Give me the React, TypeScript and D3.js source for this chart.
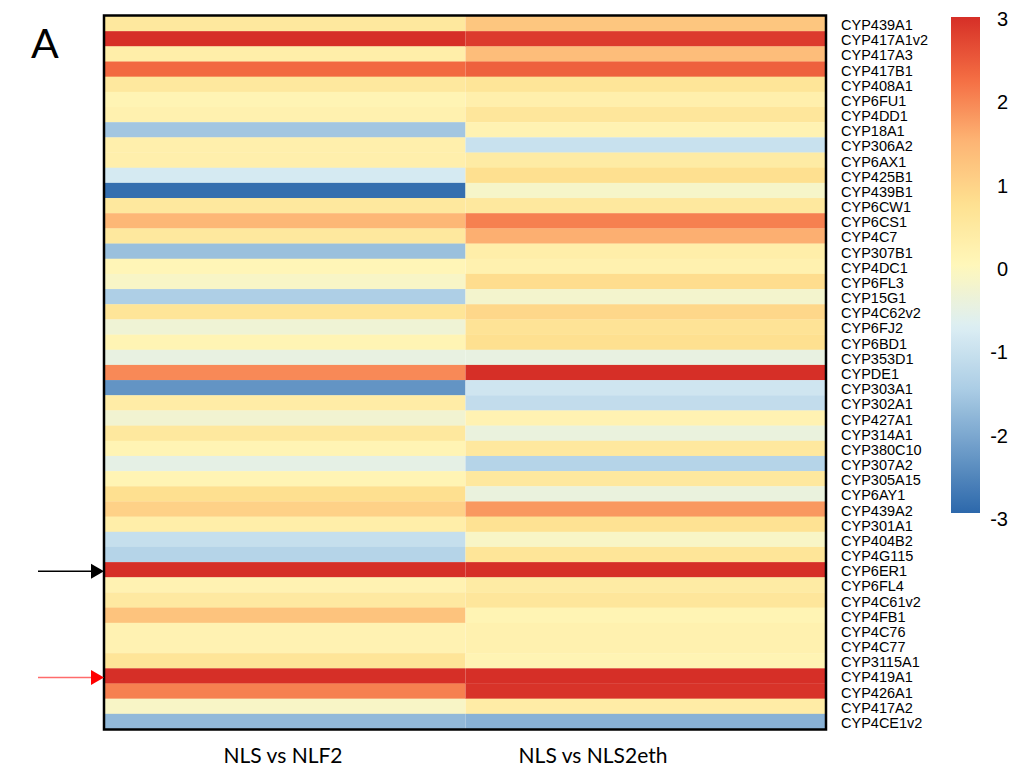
import React from "react";
import * as d3 from "d3";

const genes = [
  "CYP439A1","CYP417A1v2","CYP417A3","CYP417B1","CYP408A1","CYP6FU1","CYP4DD1","CYP18A1",
  "CYP306A2","CYP6AX1","CYP425B1","CYP439B1","CYP6CW1","CYP6CS1","CYP4C7","CYP307B1",
  "CYP4DC1","CYP6FL3","CYP15G1","CYP4C62v2","CYP6FJ2","CYP6BD1","CYP353D1","CYPDE1",
  "CYP303A1","CYP302A1","CYP427A1","CYP314A1","CYP380C10","CYP307A2","CYP305A15","CYP6AY1",
  "CYP439A2","CYP301A1","CYP404B2","CYP4G115","CYP6ER1","CYP6FL4","CYP4C61v2","CYP4FB1",
  "CYP4C76","CYP4C77","CYP3115A1","CYP419A1","CYP426A1","CYP417A2","CYP4CE1v2",
];

const conditions = ["NLS vs NLF2", "NLS vs NLS2eth"];

const nlf2 = [
  0.5, 3.0, 0.3, 2.3, 0.5, 0.1, 0.2, -1.6,
  0.25, 0.25, -0.85, -2.9, 0.5, 1.45, 0.5, -1.7,
  0.05, -0.15, -1.45, 0.6, -0.35, 0.1, -0.5, 1.95,
  -2.35, 0.35, -0.3, 0.5, 0.1, -0.55, 0.1, 0.75,
  1.0, 0.3, -1.1, -1.35, 3.0, 0.15, 0.45, 1.25,
  0.15, 0.15, 0.6, 3.0, 2.05, -0.15, -1.8,
];

const nls2eth = [
  1.2, 2.85, 1.35, 2.4, 0.6, 0.25, 0.55, 0.15,
  -1.05, 0.4, 0.75, -0.2, 0.5, 2.05, 1.55, 0.3,
  0.2, 0.8, -0.25, 0.9, 0.65, 0.75, -0.5, 3.0,
  -0.95, -1.15, 0.15, -0.45, 0.5, -1.35, 0.5, -0.45,
  1.8, 0.7, -0.15, 0.6, 3.0, 0.4, 0.55, 0.1,
  0.2, 0.2, 0.1, 3.0, 2.95, 0.35, -1.9,
];

const legendTicks = [3, 2, 1, 0, -1, -2, -3];
const paletteStops = [-3, -2.25, -1.5, -0.75, 0, 0.75, 1.5, 2.25, 3];
const paletteColors = [
  "#2C68AB", "#6C9BC8", "#ABCDE5", "#DCEEF4", "#FFF7BA",
  "#FEE090", "#FDB474", "#F46D43", "#D62F27",
];
const arrowRows = [
  { gene: "CYP6ER1", line: "#000000", head: "#000000" },
  { gene: "CYP419A1", line: "#FF6B6B", head: "#FF0000" },
];

const values = [nlf2, nls2eth];

export default function App() {
  const W = 1017, H = 772;
  const y = d3.scaleBand<string>().domain(genes).range([16, 729]);
  const x = d3.scaleBand<string>().domain(conditions).range([105, 826]);
  const color = d3
    .scaleLinear<string>()
    .domain(paletteStops)
    .range(paletteColors)
    .interpolate(d3.interpolateRgb)
    .clamp(true);
  const legY = d3.scaleLinear().domain([3, -3]).range([17, 513]);
  const legLabelY = d3.scaleLinear().domain([3, -3]).range([19, 519]);
  const gradStops = d3.range(0, 61).map((i) => {
    const v = 3 - i * 0.1;
    return { off: (i / 60) * 100, c: color(v) };
  });
  const labelX = [283, 593];

  return (
    <svg
      width={W}
      height={H}
      style={{ position: "absolute", left: 0, top: 0, background: "#fff" }}
      fontFamily="'Liberation Sans', Arial, sans-serif"
    >
      <defs>
        <linearGradient id="leg" x1="0" y1="0" x2="0" y2="1">
          {gradStops.map((s, i) => (
            <stop key={i} offset={`${s.off}%`} stopColor={s.c} />
          ))}
        </linearGradient>
      </defs>
      <text x={31} y={58} fontSize={41} fill="#000" fontFamily="Lato, sans-serif">A</text>

      {conditions.map((c, ci) =>
        genes.map((g, gi) => (
          <rect
            key={c + g}
            x={x(c)!}
            y={y(g)!}
            width={x.bandwidth()}
            height={y.bandwidth() + 0.3}
            fill={color(values[ci][gi])}
          />
        ))
      )}
      <rect x={104} y={15.5} width={722} height={714} fill="none" stroke="#000" strokeWidth={2.5} />

      {genes.map((g) => (
        <text
          key={g}
          x={841}
          y={y(g)! + y.bandwidth() / 2 + 6.5}
          fontSize={14.5}
          fill="#000"
        >
          {g}
        </text>
      ))}

      {conditions.map((c, i) => (
        <text
          key={c}
          x={labelX[i]}
          y={763}
          fontSize={21}
          textAnchor="middle"
          fontFamily="Lato, 'Open Sans', sans-serif"
          fill="#000"
        >
          {c}
        </text>
      ))}

      <rect x={951} y={legY(3)} width={29} height={legY(-3) - legY(3)} fill="url(#leg)" />
      {legendTicks.map((t) => (
        <text key={t} x={1008} y={legLabelY(t) + 7} fontSize={20} textAnchor="end" fill="#000">
          {t}
        </text>
      ))}

      {arrowRows.map((a) => {
        const cy = y(a.gene)! + y.bandwidth() / 2 + 1.5;
        return (
          <g key={a.gene}>
            <line x1={38} x2={92} y1={cy} y2={cy} stroke={a.line} strokeWidth={1.5} />
            <path d={`M91,${cy - 7.5} L104,${cy} L91,${cy + 7.5} Z`} fill={a.head} />
          </g>
        );
      })}
    </svg>
  );
}
